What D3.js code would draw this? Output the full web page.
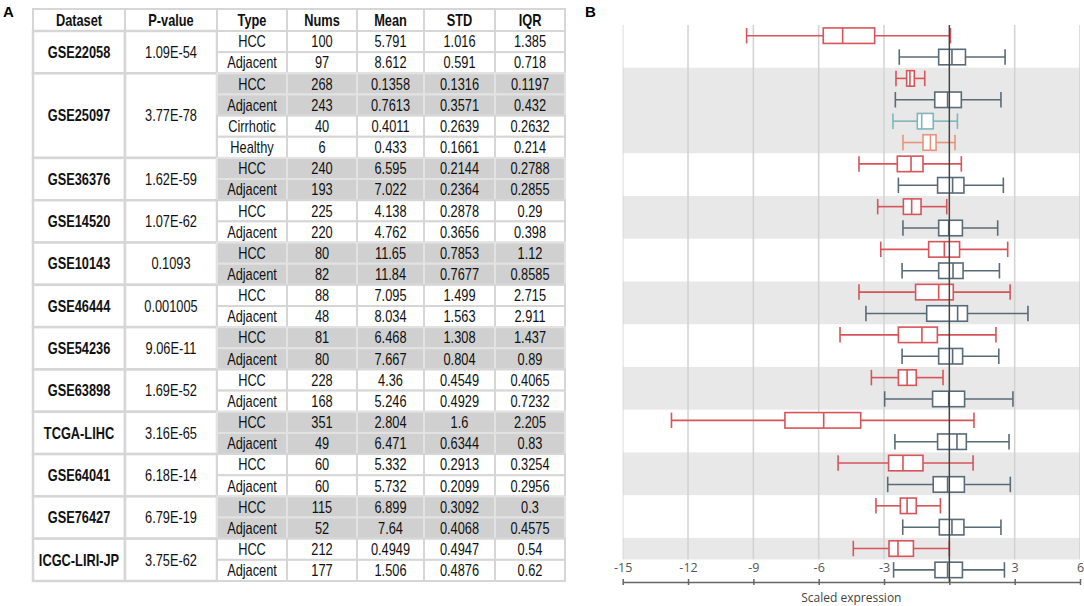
<html>
<head>
<meta charset="utf-8">
<title>Scaled expression</title>
<style>
  body { margin: 0; background: #fff; }
  svg text { font-family: "Liberation Sans", Arial, sans-serif; }
</style>
</head>
<body>
<div id="chart"></div>
<script src="https://cdn.jsdelivr.net/npm/d3@7/dist/d3.min.js"></script>
<script>
// ---- table data ----
var datasets = ["GSE22058", "GSE25097", "GSE36376", "GSE14520", "GSE10143", "GSE46444",
                "GSE54236", "GSE63898", "TCGA-LIHC", "GSE64041", "GSE76427", "ICGC-LIRI-JP"];
var pvalues = ["1.09E-54", "3.77E-78", "1.62E-59", "1.07E-62", "0.1093", "0.001005",
               "9.06E-11", "1.69E-52", "3.16E-65", "6.18E-14", "6.79E-19", "3.75E-62"];
var groupSizes = [2, 4, 2, 2, 2, 2, 2, 2, 2, 2, 2, 2];
var types = ["HCC", "Adjacent", "HCC", "Adjacent", "Cirrhotic", "Healthy",
             "HCC", "Adjacent", "HCC", "Adjacent", "HCC", "Adjacent", "HCC", "Adjacent",
             "HCC", "Adjacent", "HCC", "Adjacent", "HCC", "Adjacent", "HCC", "Adjacent",
             "HCC", "Adjacent", "HCC", "Adjacent"];
var nums = ["100", "97", "268", "243", "40", "6", "240", "193", "225", "220", "80", "82",
            "88", "48", "81", "80", "228", "168", "351", "49", "60", "60", "115", "52", "212", "177"];
var means = ["5.791", "8.612", "0.1358", "0.7613", "0.4011", "0.433", "6.595", "7.022",
             "4.138", "4.762", "11.65", "11.84", "7.095", "8.034", "6.468", "7.667",
             "4.36", "5.246", "2.804", "6.471", "5.332", "5.732", "6.899", "7.64", "0.4949", "1.506"];
var stds = ["1.016", "0.591", "0.1316", "0.3571", "0.2639", "0.1661", "0.2144", "0.2364",
            "0.2878", "0.3656", "0.7853", "0.7677", "1.499", "1.563", "1.308", "0.804",
            "0.4549", "0.4929", "1.6", "0.6344", "0.2913", "0.2099", "0.3092", "0.4068", "0.4947", "0.4876"];
var iqrs = ["1.385", "0.718", "0.1197", "0.432", "0.2632", "0.214", "0.2788", "0.2855",
            "0.29", "0.398", "1.12", "0.8585", "2.715", "2.911", "1.437", "0.89",
            "0.4065", "0.7232", "2.205", "0.83", "0.3254", "0.2956", "0.3", "0.4575", "0.54", "0.62"];
var headers = ["Dataset", "P-value", "Type", "Nums", "Mean", "STD", "IQR"];

// ---- box plot data (scaled expression) ----
var boxMin = [-9.31, -2.30, -2.45, -2.48, -2.59, -2.13, -4.15, -2.34, -3.29, -2.13, -3.15, -2.17, -4.15,
              -3.83, -5.02, -2.17, -3.58, -2.97, -12.76, -2.50, -5.11, -2.83, -3.37, -2.14, -4.41, -2.56];
var boxQ1 = [-5.79, -0.49, -1.96, -0.67, -1.47, -1.21, -2.39, -0.54, -2.11, -0.49, -0.95, -0.49, -1.55,
             -1.04, -2.34, -0.49, -2.34, -0.77, -7.55, -0.54, -2.79, -0.74, -2.25, -0.46, -2.77, -0.66];
var boxMed = [-4.90, 0.12, -1.81, -0.08, -1.27, -0.87, -1.76, 0.15, -1.73, -0.03, -0.23, 0.17, -0.49,
              0.38, -1.26, 0.15, -1.94, -0.03, -5.77, 0.35, -2.13, -0.08, -1.94, 0.12, -2.36, -0.08];
var boxQ3 = [-3.43, 0.74, -1.61, 0.55, -0.74, -0.61, -1.21, 0.67, -1.30, 0.60, 0.47, 0.63, 0.18,
             0.83, -0.55, 0.61, -1.52, 0.70, -4.07, 0.78, -1.21, 0.69, -1.52, 0.67, -1.65, 0.60];
var boxMax = [0.05, 2.56, -1.13, 2.37, 0.37, 0.26, 0.55, 2.48, -0.12, 2.22, 2.68, 2.30, 2.79,
              3.61, 2.14, 2.27, -0.29, 2.92, 1.13, 2.74, 1.09, 2.80, -0.41, 2.37, 0.0, 2.53];
var xTicks = [-15, -12, -9, -6, -3, 0, 3, 6];

var typeColor = {
  "HCC": "#d6545a",
  "Adjacent": "#5a6b78",
  "Cirrhotic": "#7fb6bc",
  "Healthy": "#e8937c"
};

var W = 1084, H = 606;
var svg = d3.select("#chart").append("svg")
  .attr("width", W)
  .attr("height", H);

// group index for every row
var rowGroup = [];
groupSizes.forEach(function(n, g) {
  for (var k = 0; k < n; k++) rowGroup.push(g);
});
var groupStart = [];
var acc = 0;
groupSizes.forEach(function(n) { groupStart.push(acc); acc += n; });

// condensed cell text (no narrow font installed, so squeeze horizontally)
function cellText(parent, cx, cy, str, bold) {
  parent.append("text")
    .attr("transform", "translate(" + cx + "," + cy + ") scale(0.8,1)")
    .attr("dy", "0.36em").attr("text-anchor", "middle")
    .attr("font-size", 16).attr("font-weight", bold ? "bold" : "normal")
    .attr("fill", "#111")
    .text(str);
}

// ================= A: table =================
var colEdges = [33, 125, 217, 287, 357, 424, 495, 565];
var headTop = 9, headBottom = 31;
var rowY = d3.scaleBand().domain(d3.range(types.length)).range([headBottom, 581]);
var border = "#d6d6d6";

svg.append("text")
  .attr("x", 3).attr("y", 17)
  .attr("font-size", 15).attr("font-weight", "bold")
  .text("A");

var table = svg.append("g").attr("class", "table");

// header
headers.forEach(function(h, i) {
  table.append("rect")
    .attr("x", colEdges[i]).attr("y", headTop)
    .attr("width", colEdges[i + 1] - colEdges[i]).attr("height", headBottom - headTop)
    .attr("fill", "#fff").attr("stroke", border).attr("stroke-width", 2);
  cellText(table, (colEdges[i] + colEdges[i + 1]) / 2, (headTop + headBottom) / 2, h, true);
});

// merged dataset / p-value cells
datasets.forEach(function(ds, g) {
  var y0 = rowY(groupStart[g]);
  var y1 = rowY(groupStart[g] + groupSizes[g] - 1) + rowY.bandwidth();
  [ds, pvalues[g]].forEach(function(t, c) {
    table.append("rect")
      .attr("x", colEdges[c]).attr("y", y0)
      .attr("width", colEdges[c + 1] - colEdges[c]).attr("height", y1 - y0)
      .attr("fill", "#fff").attr("stroke", border).attr("stroke-width", 2.5);
    cellText(table, (colEdges[c] + colEdges[c + 1]) / 2, (y0 + y1) / 2, t, c === 0);
  });
});

// per row cells
types.forEach(function(t, r) {
  var g = rowGroup[r];
  // shaded blocks: alternate datasets, only HCC/Adjacent rows
  var shaded = [1, 2, 4, 6, 8, 10].indexOf(g) >= 0 && (t === "HCC" || t === "Adjacent");
  var vals = [t, nums[r], means[r], stds[r], iqrs[r]];
  vals.forEach(function(v, k) {
    var c = k + 2;
    table.append("rect")
      .attr("x", colEdges[c]).attr("y", rowY(r))
      .attr("width", colEdges[c + 1] - colEdges[c]).attr("height", rowY.bandwidth())
      .attr("fill", shaded ? "#d0d0d0" : "#fff")
      .attr("stroke", shaded ? "#e2e2e2" : border).attr("stroke-width", 2);
    cellText(table, (colEdges[c] + colEdges[c + 1]) / 2, rowY(r) + rowY.bandwidth() / 2, v, false);
  });
});

// ================= B: box plot =================
svg.append("text")
  .attr("x", 585).attr("y", 17)
  .attr("font-size", 15).attr("font-weight", "bold")
  .text("B");

var x = d3.scaleLinear().domain([-15, 6]).range([622.7, 1080]);
var y = d3.scaleBand().domain(d3.range(types.length)).range([25, 580.6]);
var plotBottom = 559.5;
var boxH = 15.5;

svg.append("defs").append("clipPath").attr("id", "plotclip")
  .append("rect").attr("x", x(-15)).attr("y", 25)
  .attr("width", x(6) - x(-15)).attr("height", plotBottom - 25);

var plot = svg.append("g").attr("clip-path", "url(#plotclip)");

// alternating bands per dataset
datasets.forEach(function(ds, g) {
  if (g % 2 === 0) return;
  var y0 = y(groupStart[g]);
  var y1 = y(groupStart[g] + groupSizes[g] - 1) + y.bandwidth();
  plot.append("rect")
    .attr("x", x(-15)).attr("y", y0)
    .attr("width", x(6) - x(-15)).attr("height", y1 - y0)
    .attr("fill", "#e8e8e8");
});

// vertical grid
plot.selectAll("line.grid")
  .data(xTicks.filter(function(d) { return d !== 0; }))
  .enter().append("line")
  .attr("class", "grid")
  .attr("x1", function(d) { return x(d); }).attr("x2", function(d) { return x(d); })
  .attr("y1", 25).attr("y2", plotBottom)
  .attr("stroke", "#d2d2d2").attr("stroke-width", 1.5);

// axis
var axisG = svg.append("g")
  .attr("transform", "translate(0,582)")
  .call(d3.axisBottom(x).tickValues(xTicks).tickSizeInner(3).tickSizeOuter(0)
    .tickFormat(function(d) { return d === 0 ? "" : String(d); }));
axisG.select(".domain").attr("stroke", "#666").attr("stroke-width", 1.5);
axisG.selectAll(".tick line").attr("stroke", "#666").attr("stroke-width", 1.5).attr("y1", -3);
axisG.selectAll(".tick text")
  .attr("y", -15).attr("dy", "0.36em")
  .attr("fill", "#555").attr("font-size", 12.5)
  .style("font-family", "'Open Sans', 'Noto Sans', sans-serif");

svg.append("text")
  .attr("x", (x(-15) + x(6)) / 2).attr("y", 602)
  .attr("text-anchor", "middle")
  .attr("font-size", 12).attr("fill", "#444")
  .style("font-family", "'Open Sans', 'Noto Sans', sans-serif")
  .text("Scaled expression");

// boxes
var boxes = svg.append("g").attr("class", "boxes");
types.forEach(function(t, r) {
  var col = typeColor[t];
  var cy = y(r) + y.bandwidth() / 2;
  var b = boxes.append("g")
    .attr("stroke", col).attr("stroke-width", 1.6).attr("fill", "none");
  b.append("line")
    .attr("x1", x(boxMin[r])).attr("x2", x(boxQ1[r])).attr("y1", cy).attr("y2", cy);
  b.append("line")
    .attr("x1", x(boxQ3[r])).attr("x2", x(boxMax[r])).attr("y1", cy).attr("y2", cy);
  [boxMin[r], boxMax[r]].forEach(function(v) {
    b.append("line")
      .attr("x1", x(v)).attr("x2", x(v))
      .attr("y1", cy - boxH / 2).attr("y2", cy + boxH / 2);
  });
  b.append("rect")
    .attr("x", x(boxQ1[r])).attr("y", cy - boxH / 2)
    .attr("width", x(boxQ3[r]) - x(boxQ1[r])).attr("height", boxH)
    .attr("fill", "#fff");
  b.append("line")
    .attr("x1", x(boxMed[r])).attr("x2", x(boxMed[r]))
    .attr("y1", cy - boxH / 2).attr("y2", cy + boxH / 2);
});

// zero line on top
svg.append("line")
  .attr("x1", x(0)).attr("x2", x(0))
  .attr("y1", 25).attr("y2", 582)
  .attr("stroke", "#444").attr("stroke-width", 1.5);
</script>
</body>
</html>
